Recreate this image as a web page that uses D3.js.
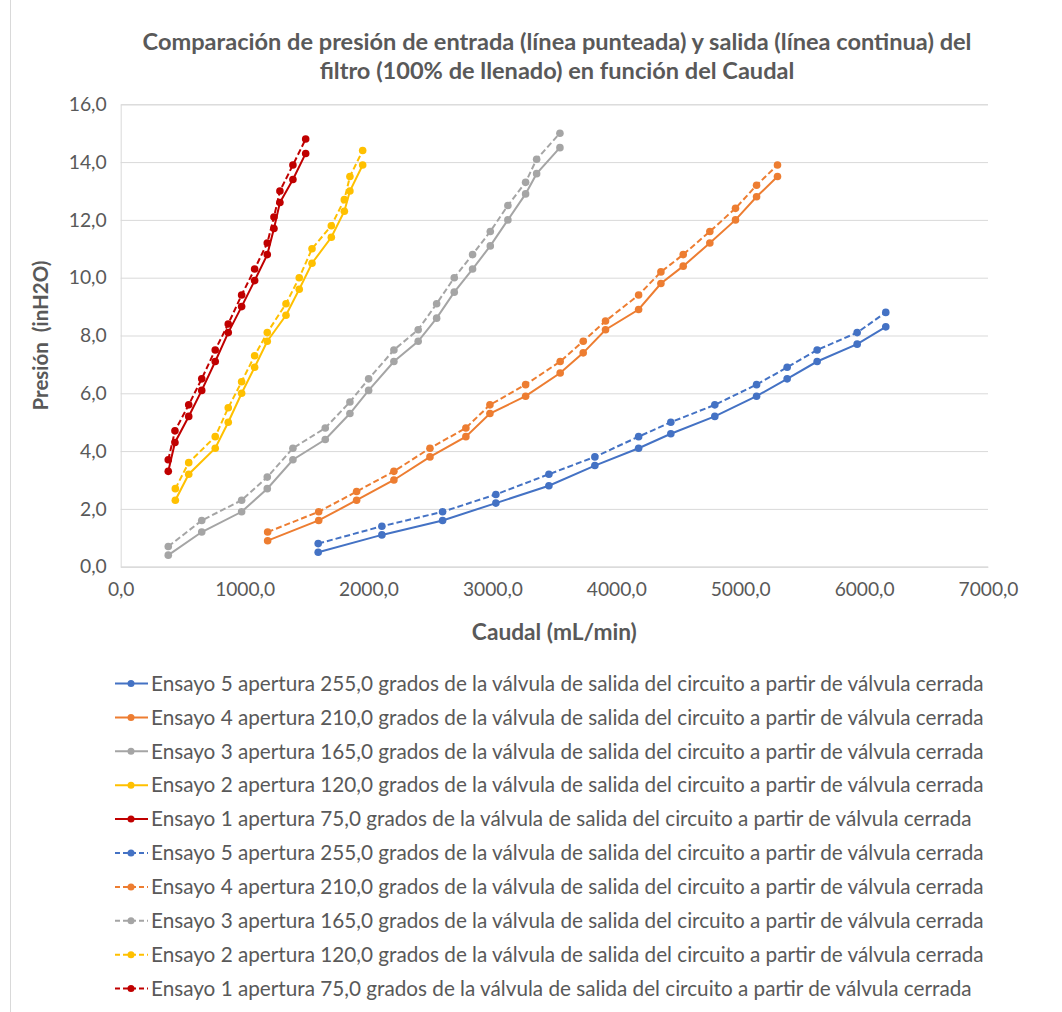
<!DOCTYPE html>
<html>
<head>
<meta charset="utf-8">
<script src="https://cdn.jsdelivr.net/npm/d3@7"></script>
<style>
  body { margin: 0; background: #fff; }
  text { font-family: Lato, "Open Sans", sans-serif; fill: #595959; }
</style>
</head>
<body>
<div id="chart"></div>
<script>
var width = 1062,
    height = 1012,
    plot = {left: 120.7, right: 988, top: 104.3, bottom: 566.7};

// series, in legend order (5 .. 1)
var ensayos = ["Ensayo 5 apertura 255,0", "Ensayo 4 apertura 210,0", "Ensayo 3 apertura 165,0",
               "Ensayo 2 apertura 120,0", "Ensayo 1 apertura 75,0"];
var suffix = " grados de la válvula de salida del circuito a partir de válvula cerrada";
var colors = ["#4472C4", "#ED7D31", "#A5A5A5", "#FFC000", "#C00000"];

// caudal (mL/min)
var caudal5 = [1594, 2108, 2598, 3028, 3456, 3827, 4180, 4440, 4795, 5132, 5379, 5621, 5944, 6175];
var caudal4 = [1186, 1598, 1904, 2205, 2496, 2786, 2980, 3268, 3547, 3733, 3913, 4180, 4360, 4540, 4755, 4962, 5132, 5301];
var caudal3 = [384, 654, 976, 1183, 1390, 1651, 1850, 2001, 2205, 2401, 2550, 2692, 2840, 2983, 3125, 3268, 3357, 3545];
var caudal2 = [441, 549, 763, 868, 976, 1081, 1183, 1334, 1441, 1544, 1700, 1805, 1850, 1953];
var caudal1 = [384, 438, 549, 654, 763, 868, 976, 1081, 1183, 1237, 1285, 1390, 1493];

// presion de salida (inH2O) - linea continua
var salida5 = [0.5, 1.1, 1.6, 2.2, 2.8, 3.5, 4.1, 4.6, 5.2, 5.9, 6.5, 7.1, 7.7, 8.3];
var salida4 = [0.9, 1.6, 2.3, 3.0, 3.8, 4.5, 5.3, 5.9, 6.7, 7.4, 8.2, 8.9, 9.8, 10.4, 11.2, 12.0, 12.8, 13.5];
var salida3 = [0.4, 1.2, 1.9, 2.7, 3.7, 4.4, 5.3, 6.1, 7.1, 7.8, 8.6, 9.5, 10.3, 11.1, 12.0, 12.9, 13.6, 14.5];
var salida2 = [2.3, 3.2, 4.1, 5.0, 6.0, 6.9, 7.8, 8.7, 9.6, 10.5, 11.4, 12.3, 13.0, 13.9];
var salida1 = [3.3, 4.3, 5.2, 6.1, 7.1, 8.1, 9.0, 9.9, 10.8, 11.7, 12.6, 13.4, 14.3];

// presion de entrada (inH2O) - linea punteada
var entrada5 = [0.8, 1.4, 1.9, 2.5, 3.2, 3.8, 4.5, 5.0, 5.6, 6.3, 6.9, 7.5, 8.1, 8.8];
var entrada4 = [1.2, 1.9, 2.6, 3.3, 4.1, 4.8, 5.6, 6.3, 7.1, 7.8, 8.5, 9.4, 10.2, 10.8, 11.6, 12.4, 13.2, 13.9];
var entrada3 = [0.7, 1.6, 2.3, 3.1, 4.1, 4.8, 5.7, 6.5, 7.5, 8.2, 9.1, 10.0, 10.8, 11.6, 12.5, 13.3, 14.1, 15.0];
var entrada2 = [2.7, 3.6, 4.5, 5.5, 6.4, 7.3, 8.1, 9.1, 10.0, 11.0, 11.8, 12.7, 13.5, 14.4];
var entrada1 = [3.7, 4.7, 5.6, 6.5, 7.5, 8.4, 9.4, 10.3, 11.2, 12.1, 13.0, 13.9, 14.8];

var xTicks = [0, 1000, 2000, 3000, 4000, 5000, 6000, 7000];
var yTicks = [0, 2, 4, 6, 8, 10, 12, 14, 16];

var caudales = [caudal5, caudal4, caudal3, caudal2, caudal1];
var salidas = [salida5, salida4, salida3, salida2, salida1];
var entradas = [entrada5, entrada4, entrada3, entrada2, entrada1];

var lines = [];
ensayos.forEach(function(n, i) {
	lines.push({name: n + suffix, color: colors[i], dashed: false,
		pts: caudales[i].map(function(q, j){ return [q, salidas[i][j]]; })});
});
ensayos.forEach(function(n, i) {
	lines.push({name: n + suffix, color: colors[i], dashed: true,
		pts: caudales[i].map(function(q, j){ return [q, entradas[i][j]]; })});
});

var fmt = function(v){ return d3.format(".1f")(v).replace(".", ","); };

var svg = d3.select("#chart").append("svg")
		.attr("width", width)
		.attr("height", height);

// chart frame, only its left edge falls inside the picture
svg.append("rect")
	.attr("x", 10.5).attr("y", -1)
	.attr("width", width + 10).attr("height", height + 10)
	.attr("fill", "#fff")
	.attr("stroke", "#D9D9D9");

var x = d3.scaleLinear().domain([0, 7000]).range([plot.left, plot.right]),
	y = d3.scaleLinear().domain([0, 16]).range([plot.bottom, plot.top]);

// fit a text to a width measured on the reference
function fit(sel, target) {
	var w = sel.node().getComputedTextLength();
	var fs = parseFloat(sel.attr("font-size"));
	sel.attr("font-size", (fs * target / w).toFixed(2));
	return fs * target / w;
}

// grid
var gy = svg.append("g")
	.attr("transform", "translate(" + plot.left + ",0)")
	.call(d3.axisLeft(y).tickValues(yTicks).tickSize(-(plot.right - plot.left)).tickFormat(fmt).tickPadding(14));
gy.select(".domain").attr("stroke", "#D9D9D9");
gy.selectAll(".tick line").attr("stroke", "#D9D9D9");
gy.selectAll(".tick text").attr("font-size", 16).attr("fill", "#595959").attr("font-family", "Lato");
var ys = fit(gy.select(".tick:last-of-type text"), 38);
gy.selectAll(".tick text").attr("font-size", ys);

var gx = svg.append("g")
	.attr("transform", "translate(0," + plot.bottom + ")")
	.call(d3.axisBottom(x).tickValues(xTicks).tickSize(0).tickFormat(fmt).tickPadding(16));
gx.select(".domain").attr("stroke", "#D9D9D9");
gx.selectAll(".tick text").attr("font-size", 16).attr("fill", "#595959").attr("font-family", "Lato");
var xs = fit(gx.select(".tick:nth-of-type(2) text"), 60);
gx.selectAll(".tick text").attr("font-size", xs);

// series
var line = d3.line()
	.x(function(d){ return x(d[0]); })
	.y(function(d){ return y(d[1]); });

var g = svg.append("g");
lines.forEach(function(s) {
	g.append("path")
		.attr("d", line(s.pts))
		.attr("fill", "none")
		.attr("stroke", s.color)
		.attr("stroke-width", 2)
		.attr("stroke-dasharray", s.dashed ? "6,3" : null);
	g.selectAll(null)
		.data(s.pts)
		.enter().append("circle")
		.attr("cx", function(d){ return x(d[0]); })
		.attr("cy", function(d){ return y(d[1]); })
		.attr("r", 3.8)
		.attr("fill", s.color);
});

// titles
var t1 = svg.append("text")
	.attr("x", 557).attr("y", 50)
	.attr("text-anchor", "middle")
	.attr("font-weight", "bold")
	.attr("font-size", 18)
	.text("Comparación de presión de entrada (línea punteada) y salida (línea continua) del");
var ts = fit(t1, 829);
svg.append("text")
	.attr("x", 557).attr("y", 79)
	.attr("text-anchor", "middle")
	.attr("font-weight", "bold")
	.attr("font-size", ts)
	.text("filtro (100% de llenado) en función del Caudal");

var xl = svg.append("text")
	.attr("x", (plot.left + plot.right) / 2).attr("y", 640)
	.attr("text-anchor", "middle")
	.attr("font-weight", "bold")
	.attr("font-size", 16)
	.text("Caudal (mL/min)");
fit(xl, 165);

var yl = svg.append("text")
	.attr("transform", "translate(48," + ((plot.top + plot.bottom) / 2) + ") rotate(-90)")
	.attr("text-anchor", "middle")
	.attr("font-weight", "bold")
	.attr("font-size", 16)
	.style("white-space", "pre")
	.text("Presión  (inH2O)");
fit(yl, 150);

// legend
var legend = svg.append("g");
var rows = legend.selectAll("g")
	.data(lines)
	.enter().append("g")
	.attr("transform", function(d, i){ return "translate(0," + (683.5 + i * 33.9) + ")"; });
rows.append("line")
	.attr("x1", 115).attr("x2", 148)
	.attr("stroke", function(d){ return d.color; })
	.attr("stroke-width", 2)
	.attr("stroke-dasharray", function(d){ return d.dashed ? "5,3" : null; });
rows.append("circle")
	.attr("cx", 131).attr("r", 3.5)
	.attr("fill", function(d){ return d.color; });
var lt = rows.append("text")
	.attr("x", 151).attr("dy", "0.35em")
	.attr("font-size", 16)
	.text(function(d){ return d.name; });
var ls = fit(d3.select(lt.nodes()[0]), 833);
lt.attr("font-size", ls);
</script>
</body>
</html>
